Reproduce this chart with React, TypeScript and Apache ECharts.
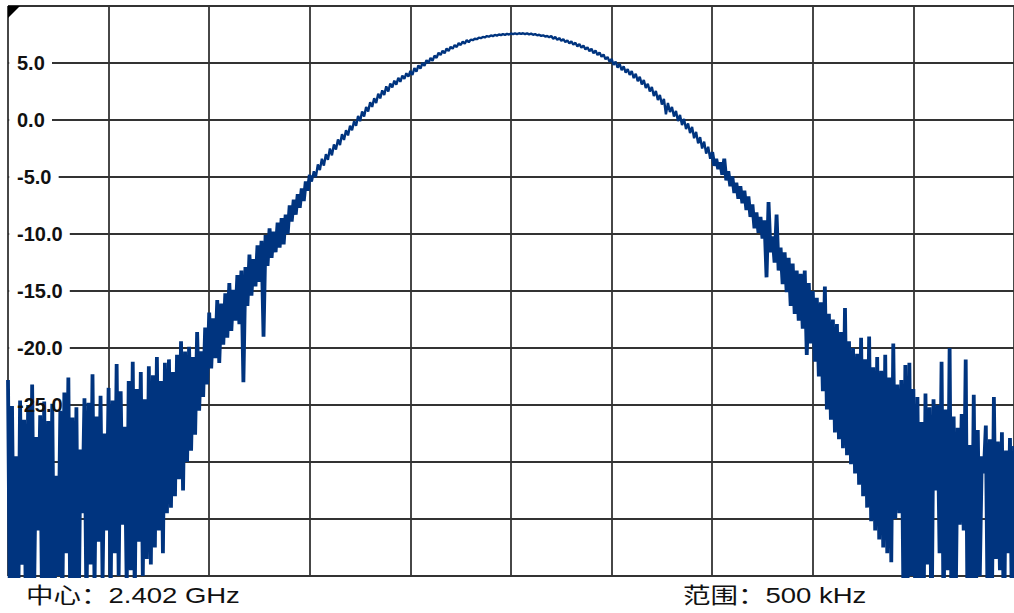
import React, { useEffect, useRef } from 'react';
import * as echarts from 'echarts';

// Frequency offset from the 2.402 GHz centre, kHz, of the first sample and the sample step
const traceStartKHz = -250;
const traceStepKHz = 1;

// Trace level, dB (k = -250 .. -151)
const leftWing = [
  -22.8, -44.0, -25.1, -42.0, -29.5, -45.0, -24.6, -39.0, -26.3, -46.0,
  -25.0, -43.0, -23.2, -41.0, -27.8, -36.0, -25.9, -44.0, -24.7, -47.0,
  -26.4, -42.0, -24.9, -45.0, -31.2, -40.0, -25.5, -43.0, -23.9, -38.0,
  -22.6, -44.0, -26.1, -41.0, -25.2, -46.0, -28.9, -34.5, -24.4, -43.0,
  -24.8, -39.0, -22.3, -41.0, -26.0, -37.0, -24.2, -40.5, -27.5, -36.0,
  -23.5, -42.0, -24.6, -38.0, -21.4, -40.0, -23.8, -35.5, -26.9, -41.0,
  -22.9, -39.5, -21.2, -42.0, -23.6, -37.0, -22.1, -40.0, -24.5, -38.5,
  -21.6, -39.0, -22.4, -37.5, -20.8, -36.0, -22.9, -38.0, -21.3, -34.5,
  -21.0, -34.0, -22.1, -33.0, -20.6, -31.5, -19.4, -32.5, -20.3, -30.0,
  -19.9, -29.0, -20.8, -27.6, -18.6, -25.5, -20.3, -24.3, -18.2, -23.2,
];

// k = -150 .. -101
const leftSlope = [
  -16.9, -21.8, -17.4, -20.9, -15.8, -21.3, -16.1, -19.7, -15.2, -19.1,
  -14.3, -18.5, -14.9, -17.6, -13.6, -17.9, -13.2, -23.0, -12.9, -16.3,
  -11.8, -15.4, -12.2, -14.6, -11.0, -14.2, -10.6, -19.0, -10.1, -12.8,
  -9.5, -12.1, -9.8, -11.6, -9.0, -11.2, -8.6, -10.9, -8.3, -10.0,
  -7.5, -8.9, -7.0, -8.3, -6.5, -7.7, -6.0, -7.1, -5.4, -6.2,
];

// k = -100 .. 100
const centre = [
  -4.8, -5.4, -4.5, -5.0, -3.9, -4.4, -3.4, -4.0, -3.0, -3.5,
  -2.5, -3.1, -2.15, -2.6, -1.7, -2.2, -1.25, -1.75, -0.9, -1.35,
  -0.5, -0.9, -0.1, -0.5, 0.35, -0.1, 0.75, 0.3, 1.15, 0.75,
  1.55, 1.15, 1.9, 1.5, 2.3, 1.9, 2.6, 2.2, 2.95, 2.5,
  3.2, 2.85, 3.45, 3.1, 3.7, 3.35, 3.9, 3.6, 4.1, 3.8,
  4.3, 3.95, 4.55, 4.25, 4.8, 4.5, 5.0, 4.75, 5.25, 5.0,
  5.45, 5.2, 5.65, 5.45, 5.9, 5.7, 6.08, 5.85, 6.27, 6.05,
  6.42, 6.25, 6.58, 6.4, 6.74, 6.58, 6.88, 6.7, 7.0, 6.82,
  7.05, 7.0, 7.13, 7.09, 7.22, 7.18, 7.29, 7.24, 7.36, 7.31,
  7.42, 7.36, 7.46, 7.4, 7.5, 7.44, 7.53, 7.47, 7.56, 7.5,
  7.59, 7.53, 7.6, 7.54, 7.61, 7.55, 7.61, 7.53, 7.6, 7.51,
  7.58, 7.48, 7.53, 7.43, 7.48, 7.38, 7.43, 7.32, 7.37, 7.26,
  7.37, 7.13, 7.28, 7.03, 7.19, 6.94, 7.1, 6.83, 6.99, 6.72,
  6.9, 6.6, 6.78, 6.46, 6.66, 6.34, 6.53, 6.2, 6.38, 6.04,
  6.25, 5.86, 6.1, 5.7, 5.93, 5.54, 5.75, 5.32, 5.53, 5.1,
  5.35, 4.84, 5.12, 4.6, 4.92, 4.38, 4.7, 4.15, 4.47, 3.95,
  4.3, 3.68, 4.05, 3.4, 3.8, 3.12, 3.5, 2.8, 3.18, 2.5,
  2.9, 2.1, 2.55, 1.75, 2.2, 1.35, 1.85, 0.5, 1.5, 0.7,
  1.15, 0.3, 0.8, -0.1, 0.45, -0.45, 0.1, -0.8, -0.3, -1.15,
  -0.6, -1.6, -1.05, -2.05, -1.5, -2.5, -1.9, -2.95, -2.35, -3.4,
  -2.8,
];

// k = 101 .. 150
const rightSlope = [
  -4.0, -3.4, -4.3, -3.7, -4.8, -3.4, -5.3, -4.5, -5.8, -4.95,
  -6.4, -5.5, -6.9, -5.8, -7.3, -6.2, -7.9, -6.7, -8.5, -7.4,
  -9.5, -8.1, -9.9, -8.5, -10.4, -8.8, -13.8, -7.2, -11.6, -10.2,
  -12.5, -8.3, -13.2, -11.2, -14.4, -11.6, -15.1, -12.1, -16.3, -12.6,
  -17.0, -13.2, -17.6, -13.5, -18.3, -13.2, -20.6, -14.3, -19.6, -15.0,
];

// k = 151 .. 250
const rightWing = [
  -21.2, -15.6, -22.5, -16.0, -23.8, -14.6, -25.4, -17.0, -26.3, -17.5,
  -27.4, -17.9, -28.0, -18.6, -28.8, -16.5, -29.4, -19.4, -30.2, -20.0,
  -31.0, -20.5, -32.0, -19.1, -33.0, -21.0, -34.0, -19.0, -35.2, -21.7,
  -36.0, -20.8, -36.8, -22.0, -37.5, -20.6, -38.0, -22.6, -38.8, -19.6,
  -35.0, -23.2, -34.5, -22.8, -41.0, -21.5, -43.0, -21.3, -40.0, -23.6,
  -44.0, -24.3, -42.0, -26.5, -45.0, -24.0, -39.0, -25.2, -46.0, -24.5,
  -32.5, -25.0, -38.0, -21.2, -44.0, -25.4, -39.5, -20.0, -45.0, -26.0,
  -43.0, -27.0, -35.5, -25.8, -36.0, -21.0, -46.0, -28.5, -42.0, -24.1,
  -44.0, -27.2, -40.0, -29.5, -31.0, -26.8, -45.0, -28.0, -43.0, -24.3,
  -38.5, -28.2, -39.5, -27.4, -46.0, -29.0, -38.0, -27.9, -44.0, -28.6,
];

// Axes
const xMin = -250;
const xMax = 250;
const xStep = 50;
const yMin = -40;
const yMax = 10;
const yStep = 5;
const labelledTicks = [5, 0, -5, -10, -15, -20, -25];

const centreText = '中心：2.402 GHz';
const spanText = '范围：500 kHz';

const FONT = "'Liberation Sans', Arial, 'Noto Sans CJK SC', sans-serif";
const LABEL_FONT_SIZE = 20;
const TRACE = '#00347f';

export default function App() {
  const ref = useRef<HTMLDivElement>(null);

  useEffect(() => {
    if (!ref.current) return;
    const chart = echarts.init(ref.current, null, { renderer: 'svg' });
    const values = [...leftWing, ...leftSlope, ...centre, ...rightSlope, ...rightWing];
    const data = values.map((v, i) => [traceStartKHz + i * traceStepKHz, v]);
    const nLeft = leftWing.length + leftSlope.length;
    const nCentre = centre.length;
    const leftData = data.slice(0, nLeft + 1);
    const centreData = data.slice(nLeft, nLeft + nCentre);
    const rightData = data.slice(nLeft + nCentre - 1);

    const gridLine = { show: true, lineStyle: { color: '#333333', width: 1.8 } };
    const traceSeries = (d: number[][], w: number) => ({
      type: 'line',
      data: d,
      xAxisIndex: 0,
      yAxisIndex: 0,
      symbol: 'none',
      showSymbol: false,
      clip: true,
      z: 3,
      lineStyle: { color: TRACE, width: w, join: 'bevel' },
      emphasis: { disabled: true },
    });

    chart.setOption({
      animation: false,
      backgroundColor: '#ffffff',
      grid: { left: 8, top: 6, width: 1010, height: 570, containLabel: false },
      xAxis: {
        type: 'value',
        min: xMin,
        max: xMax,
        interval: xStep,
        axisLine: { show: false },
        axisTick: { show: false },
        axisLabel: { show: false },
        splitLine: gridLine,
      },
      yAxis: [
        {
          type: 'value',
          min: yMin,
          max: yMax,
          interval: yStep,
          z: 0,
          axisLine: { show: false },
          axisTick: { show: false },
          axisLabel: { show: false },
          splitLine: gridLine,
        },
        {
          type: 'value',
          min: yMin,
          max: yMax,
          interval: yStep,
          position: 'left',
          z: 5,
          axisLine: { show: false },
          axisTick: { show: false },
          splitLine: { show: false },
          axisLabel: {
            show: true,
            inside: true,
            margin: 9,
            customValues: labelledTicks,
            formatter: (v: number) => v.toFixed(1),
            color: '#111111',
            fontSize: LABEL_FONT_SIZE,
            fontWeight: 'bold',
            fontFamily: FONT,
          },
        },
      ],
      series: [traceSeries(leftData, 3.8), traceSeries(centreData, 2.4), traceSeries(rightData, 3.8)],
      graphic: [
        {
          type: 'polygon',
          id: 'corner',
          z: 10,
          shape: { points: [[8, 6], [20, 6], [8, 18]] },
          style: { fill: '#000000' },
        },
        {
          type: 'text',
          id: 'centreText',
          x: 26,
          y: 595,
          scaleX: 1.25,
          style: {
            text: centreText,
            fontSize: 22,
            fontFamily: FONT,
            fill: '#111111',
            verticalAlign: 'middle',
            align: 'left',
          },
        },
        {
          type: 'text',
          id: 'spanText',
          x: 683,
          y: 595,
          scaleX: 1.25,
          style: {
            text: spanText,
            fontSize: 22,
            fontFamily: FONT,
            fill: '#111111',
            verticalAlign: 'middle',
            align: 'left',
          },
        },
      ],
    });

    // White gaps in the grid lines behind the tick labels (drawn under the trace)
    const ctx = document.createElement('canvas').getContext('2d');
    if (ctx) ctx.font = `bold ${LABEL_FONT_SIZE}px 'Liberation Sans', Arial, sans-serif`;
    const gaps = labelledTicks.map((v, i) => {
      const y = chart.convertToPixel({ yAxisIndex: 0 }, v) as number;
      const w = ctx ? ctx.measureText(v.toFixed(1)).width : 30;
      return {
        type: 'rect',
        id: 'gap' + i,
        z: 1,
        silent: true,
        shape: { x: 9.2, y: y - 4, width: 8 + w + 7, height: 8 },
        style: { fill: '#ffffff' },
      };
    });
    chart.setOption({ graphic: gaps });

    return () => chart.dispose();
  }, []);

  return (
    <div
      ref={ref}
      style={{ position: 'fixed', left: 0, top: 0, width: 1014, height: 613, background: '#ffffff' }}
    />
  );
}
